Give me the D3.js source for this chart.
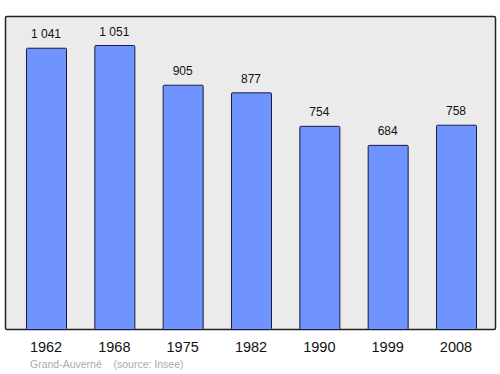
<!DOCTYPE html>
<html><head><meta charset="utf-8">
<script src="https://cdn.jsdelivr.net/npm/d3@7"></script>
<style>body{margin:0;background:#fff}svg{display:block}</style>
</head><body>
<script>
const years = ["1962","1968","1975","1982","1990","1999","2008"];
const values = [1041, 1051, 905, 877, 754, 684, 758];
const valueLabels = ["1 041","1 051","905","877","754","684","758"];
const sourceText = "Grand-Auverné    (source: Insee)";

const W = 500, H = 374;
const svg = d3.select("body").append("svg").attr("width", W).attr("height", H);
const plot = {left: 5.5, top: 16.5, right: 495.5, bottom: 329.5};
const FONT = "Liberation Sans, Arial, sans-serif";

svg.append("rect").attr("x", plot.left).attr("y", plot.top)
  .attr("width", plot.right - plot.left).attr("height", plot.bottom - plot.top)
  .attr("rx", 1.5).attr("fill", "#ebebeb").attr("stroke", "#222").attr("stroke-width", 1.5);

const x = d3.scaleBand().domain(years).range([5.5, 496.5]).paddingInner(0.4146).paddingOuter(0.3);
const y = d3.scaleLinear().domain([0, 1051]).range([331.5, 45.5]);

svg.selectAll("rect.bar").data(values).enter().append("rect").attr("class","bar")
  .attr("x", (d,i) => x(years[i]) + 0.5)
  .attr("y", d => y(d))
  .attr("width", x.bandwidth())
  .attr("height", d => plot.bottom - y(d))
  .attr("rx", 1)
  .attr("fill", "#7094ff").attr("stroke", "#1a1a3a").attr("stroke-width", 1);

svg.selectAll("text.val").data(values).enter().append("text").attr("class","val")
  .attr("x", (d,i) => x(years[i]) + x.bandwidth()/2)
  .attr("y", d => y(d) - 10)
  .attr("text-anchor", "middle")
  .attr("font-family", FONT).attr("font-size", 12).attr("fill", "#111")
  .text((d,i) => valueLabels[i]);

const xAxis = d3.axisBottom(x).tickSize(0).tickPadding(0);
const ga = svg.append("g").attr("transform", `translate(0,${plot.bottom + 22.5})`).call(xAxis);
ga.select(".domain").remove();
ga.selectAll("text").attr("font-family", FONT).attr("font-size", 14.5).attr("fill", "#111").attr("dy", 0);

svg.append("text").attr("x", 30).attr("y", 368)
  .attr("font-family", FONT).attr("font-size", 10.5).attr("fill", "#aaa")
  .attr("xml:space", "preserve").style("white-space", "pre")
  .text(sourceText);
</script>
</body></html>
